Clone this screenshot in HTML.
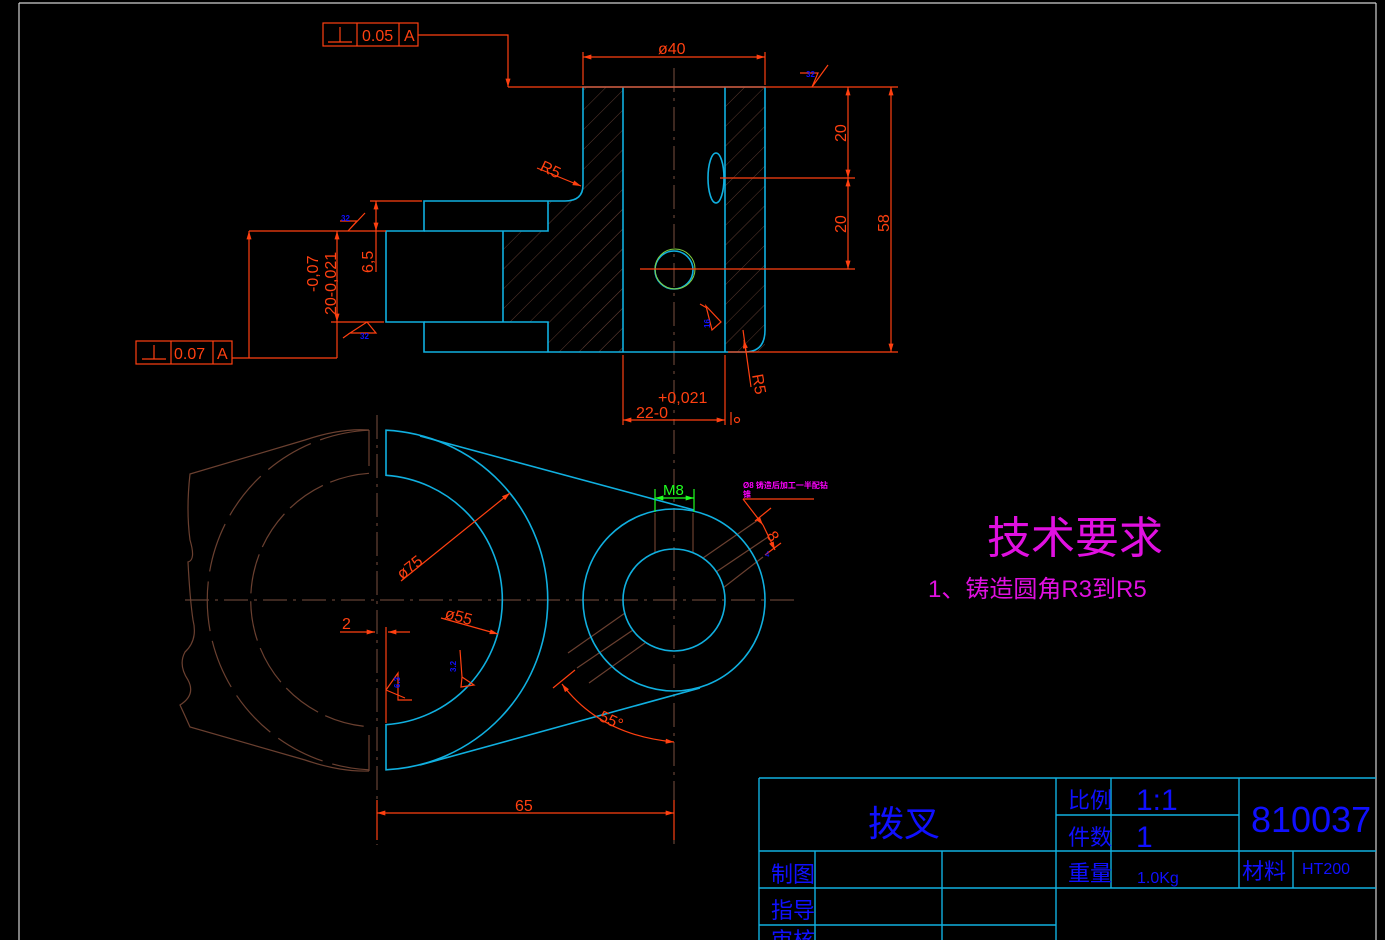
<!DOCTYPE html>
<html><head><meta charset="utf-8"><style>
html,body{margin:0;padding:0;background:#000;}
svg{display:block}
text{font-family:"Liberation Sans","Noto Sans CJK SC",sans-serif;}
</style></head><body>
<svg width="1385" height="940" viewBox="0 0 1385 940" xmlns="http://www.w3.org/2000/svg">
<defs>
<pattern id="h" width="14" height="14" patternUnits="userSpaceOnUse" patternTransform="rotate(45)">
<line x1="0" y1="0" x2="0" y2="14" stroke="#5a3a30" stroke-width="1"/>
</pattern>
<marker id="a" viewBox="0 0 10 6" refX="10" refY="3" markerWidth="12" markerHeight="5" orient="auto-start-reverse" markerUnits="userSpaceOnUse"><path d="M0,0L10,3L0,6z" fill="#ff4010"/></marker>
<marker id="g" viewBox="0 0 10 6" refX="10" refY="3" markerWidth="12" markerHeight="5" orient="auto-start-reverse" markerUnits="userSpaceOnUse"><path d="M0,0L10,3L0,6z" fill="#20ff20"/></marker>
</defs>
<rect width="1385" height="940" fill="#000"/>
<g stroke="#d0d0d0" stroke-width="1.2" fill="none">
<line x1="19" y1="3" x2="1376" y2="3"/>
<line x1="19" y1="3" x2="19" y2="940"/>
<line x1="1376" y1="3" x2="1376" y2="940"/>
</g>

<g fill="url(#h)" stroke="none">
<rect x="583" y="87" width="40" height="265"/>
<rect x="725" y="87" width="40" height="265"/>
<path d="M548,201 L565,201 Q583,201 583,185 L583,201 L623,201 L623,352 L548,352 Z"/>
<rect x="503" y="231" width="45" height="91"/>
</g>
<g stroke="#7a5040" stroke-width="1" stroke-dasharray="24,6,3,6" fill="none">
<line x1="674" y1="68" x2="674" y2="425"/>
<line x1="377" y1="415" x2="377" y2="845"/>
<line x1="674" y1="430" x2="674" y2="845"/>
<line x1="185" y1="600" x2="795" y2="600"/>
</g>
<g stroke="#10b0e0" stroke-width="1.6" fill="none">
<path d="M583,87 L765,87 L765,330 Q765,352 745,352 L424,352 L424,322 L386,322 L386,231 L424,231 L424,201 L565,201 Q583,201 583,185 Z"/>
<line x1="623" y1="87" x2="623" y2="352"/>
<line x1="725" y1="87" x2="725" y2="352"/>
<path d="M424,231 L548,231 L548,201 M424,322 L548,322 L548,352 M503,231 L503,322"/>
<ellipse cx="716" cy="178" rx="8" ry="25"/>
<circle cx="674" cy="270" r="19"/>
</g>
<circle cx="675" cy="269" r="20" stroke="#80d040" stroke-width="1" fill="none"/>

<g stroke="#ff4010" stroke-width="1.2" fill="none">
<rect x="323" y="23" width="95" height="23"/>
<line x1="357" y1="23" x2="357" y2="46"/><line x1="399" y1="23" x2="399" y2="46"/>
<line x1="328" y1="42" x2="352" y2="42"/><line x1="340" y1="27" x2="340" y2="42"/>
<path d="M418,35 L508,35 L508,87" marker-end="url(#a)"/>
<line x1="508" y1="87" x2="898" y2="87"/>
<line x1="583" y1="52" x2="583" y2="85"/><line x1="765" y1="52" x2="765" y2="85"/>
<line x1="583" y1="57" x2="765" y2="57" marker-start="url(#a)" marker-end="url(#a)"/>
<path d="M800,73 L818,73 L812,87 L828,65"/>
<line x1="728" y1="352" x2="898" y2="352"/>
<line x1="891" y1="87" x2="891" y2="352" marker-start="url(#a)" marker-end="url(#a)"/>
<line x1="720" y1="178" x2="855" y2="178"/>
<line x1="640" y1="269" x2="855" y2="269"/>
<line x1="848" y1="87" x2="848" y2="178" marker-start="url(#a)" marker-end="url(#a)"/>
<line x1="848" y1="178" x2="848" y2="269" marker-start="url(#a)" marker-end="url(#a)"/>
<line x1="537" y1="168" x2="581" y2="186" marker-end="url(#a)"/>
<line x1="743" y1="330" x2="751" y2="387"/>
<line x1="746" y1="352" x2="744" y2="340" marker-end="url(#a)"/>
<line x1="623" y1="355" x2="623" y2="425"/><line x1="725" y1="355" x2="725" y2="425"/>
<line x1="623" y1="420" x2="725" y2="420" marker-start="url(#a)" marker-end="url(#a)"/>
<line x1="731" y1="412" x2="731" y2="425"/>
<circle cx="737" cy="420" r="2.5"/>
<path d="M706,306 L721,322 L712,330 Z"/><line x1="700" y1="304" x2="707" y2="308"/>
<line x1="370" y1="201" x2="422" y2="201"/>
<line x1="376" y1="201" x2="376" y2="231" marker-start="url(#a)" marker-end="url(#a)"/>
<line x1="376" y1="231" x2="376" y2="272"/>
<line x1="249" y1="231" x2="386" y2="231"/>
<line x1="331" y1="322" x2="384" y2="322"/>
<line x1="249" y1="358" x2="249" y2="231" marker-end="url(#a)"/>
<line x1="337" y1="231" x2="337" y2="322" marker-start="url(#a)" marker-end="url(#a)"/>
<line x1="337" y1="322" x2="337" y2="358"/>
<line x1="232" y1="358" x2="337" y2="358"/>
<rect x="136" y="341" width="96" height="23"/>
<line x1="171" y1="341" x2="171" y2="364"/><line x1="213" y1="341" x2="213" y2="364"/>
<line x1="142" y1="359" x2="166" y2="359"/><line x1="154" y1="345" x2="154" y2="359"/>
<path d="M340,221 L357,221 L348,231 L365,213"/>
<path d="M350,333 L376,333 L367,322 Z M350,333 L343,338"/>
</g>
<g fill="#ff4010" font-size="16">
<text x="362" y="41">0.05</text><text x="404" y="41">A</text>
<text x="174" y="359">0.07</text><text x="217" y="359">A</text>
<text x="658" y="54">ø40</text>
<text x="0" y="0" transform="translate(846,142) rotate(-90)">20</text>
<text x="0" y="0" transform="translate(846,233) rotate(-90)">20</text>
<text x="0" y="0" transform="translate(889,232) rotate(-90)">58</text>
<text x="0" y="0" transform="translate(373,273) rotate(-90)">6,5</text>
<text x="0" y="0" transform="translate(318,292) rotate(-90)">-0,07</text>
<text x="0" y="0" transform="translate(336,315) rotate(-90)">20-0,021</text>
<text x="0" y="0" transform="translate(539,170) rotate(25)">R5</text>
<text x="0" y="0" transform="translate(752,375) rotate(80)">R5</text>
<text x="658" y="403">+0,021</text>
<text x="636" y="418">22-0</text>
</g>
<g fill="#1010ff" font-size="8" font-weight="bold">
<text x="806" y="77">32</text><text x="341" y="221">32</text><text x="360" y="339">32</text>
<text x="0" y="0" transform="translate(710,328) rotate(-90)">16</text>
</g>

<g stroke="#6b4030" stroke-width="1.2" fill="none">
<path d="M369,430 Q340,428 305,440 L190,474 Q186,510 190,540 Q196,560 188,562 Q190,600 193,620 Q198,640 185,652 Q178,665 188,680 Q196,695 180,705 Q186,718 190,727 L305,760 Q340,772 369,771"/>
<line x1="369" y1="430" x2="369" y2="466"/><line x1="369" y1="735" x2="369" y2="771"/>
<path d="M369,473.3 A127,127 0 0 0 369,726.7" stroke-dasharray="40,8"/>
<path d="M369,430.2 A170,170 0 0 0 369,769.8" stroke-dasharray="50,10"/>
<line x1="655" y1="513" x2="655" y2="553"/><line x1="693" y1="513" x2="693" y2="553"/>
<line x1="703" y1="558" x2="758" y2="520"/><line x1="716" y1="572" x2="768" y2="537"/><line x1="723" y1="588" x2="763" y2="557"/>
<line x1="568" y1="653" x2="625" y2="613"/><line x1="577" y1="668" x2="633" y2="630"/><line x1="589" y1="683" x2="645" y2="643"/>
</g>
<g stroke="#10b0e0" stroke-width="1.6" fill="none">
<path d="M386,430.2 A170,170 0 0 1 386,769.8 L386,724.7 A125,125 0 0 0 386,475.3 Z"/>
<circle cx="674" cy="600" r="91"/>
<circle cx="674" cy="600" r="51"/>
<line x1="420" y1="436" x2="694" y2="510"/>
<line x1="420" y1="765" x2="700" y2="688"/>
</g>
<g stroke="#ff4010" stroke-width="1.2" fill="none">
<line x1="401" y1="581" x2="510" y2="493" marker-end="url(#a)"/>
<line x1="441" y1="618" x2="498" y2="634" marker-end="url(#a)"/>
<line x1="340" y1="632" x2="375" y2="632" marker-end="url(#a)"/>
<line x1="410" y1="632" x2="388" y2="632" marker-end="url(#a)"/>
<line x1="386" y1="627" x2="386" y2="723"/>
<line x1="377" y1="800" x2="377" y2="840"/><line x1="674" y1="800" x2="674" y2="840"/>
<line x1="377" y1="813" x2="674" y2="813" marker-start="url(#a)" marker-end="url(#a)"/>
<path d="M562,684 Q600,735 674,742" marker-start="url(#a)" marker-end="url(#a)"/>
<line x1="553" y1="688" x2="575" y2="670"/>
<path d="M386,690 L398,673 L398,700 L412,700 M386,690 L405,698"/>
<path d="M462,677 L474,685 L461,687 L462,677 M462,677 L460,650"/>
<line x1="743" y1="499" x2="814" y2="499"/>
<line x1="743" y1="499" x2="763" y2="525" marker-end="url(#a)"/>
<line x1="755" y1="521" x2="771" y2="508"/>
<line x1="763" y1="525" x2="775" y2="550" marker-end="url(#a)"/>
<line x1="765" y1="555" x2="781" y2="543"/>
</g>
<g stroke="#20ff20" stroke-width="1.2" fill="none">
<line x1="655" y1="489" x2="655" y2="512"/><line x1="694" y1="489" x2="694" y2="512"/>
<line x1="655" y1="498" x2="694" y2="498" marker-start="url(#g)" marker-end="url(#g)"/>
</g>
<text x="663" y="495" fill="#20ff20" font-size="15">M8</text>
<g fill="#ff4010" font-size="16">
<text x="0" y="0" transform="translate(402,580) rotate(-38)">ø75</text>
<text x="0" y="0" transform="translate(444,618) rotate(15)">ø55</text>
<text x="342" y="629">2</text>
<text x="515" y="811">65</text>
<text x="0" y="0" transform="translate(598,720) rotate(25)">55°</text>
<text x="0" y="0" transform="translate(766,535) rotate(60)">8</text>
</g>
<g fill="#ff00ff" font-size="8" font-weight="bold">
<text x="743" y="488">Ø8 铸造后加工一半配钻</text><text x="743" y="497">锥</text>
</g>
<text x="765" y="557" fill="#1010ff" font-size="8">4</text>
<g fill="#1010ff" font-size="8" font-weight="bold">
<text x="0" y="0" transform="translate(400,688) rotate(-90)">6.3</text>
<text x="0" y="0" transform="translate(456,672) rotate(-90)">3.2</text>
</g>

<text x="987" y="553" fill="#e010e0" font-size="44" font-family="'Noto Sans CJK SC',sans-serif">技术要求</text>
<text x="928" y="597" fill="#e010e0" font-size="24" font-family="'Liberation Sans','Noto Sans CJK SC',sans-serif">1、铸造圆角R3到R5</text>

<g stroke="#10b0e0" stroke-width="1.4" fill="none">
<line x1="759" y1="778" x2="1376" y2="778"/>
<line x1="759" y1="778" x2="759" y2="940"/>
<line x1="759" y1="851" x2="1376" y2="851"/>
<line x1="759" y1="888" x2="1376" y2="888"/>
<line x1="759" y1="925" x2="1056" y2="925"/>
<line x1="1056" y1="815" x2="1239" y2="815"/>
<line x1="815" y1="851" x2="815" y2="940"/>
<line x1="942" y1="851" x2="942" y2="940"/>
<line x1="1056" y1="778" x2="1056" y2="940"/>
<line x1="1111" y1="778" x2="1111" y2="888"/>
<line x1="1239" y1="778" x2="1239" y2="888"/>
<line x1="1293" y1="851" x2="1293" y2="888"/>
</g>
<g fill="#1010ff" font-family="'Noto Sans CJK SC',sans-serif">
<text x="868" y="836" font-size="36">拨叉</text>
<text x="1068" y="808" font-size="22">比例</text>
<text x="1068" y="845" font-size="22">件数</text>
<text x="1068" y="881" font-size="22">重量</text>
<text x="1242" y="879" font-size="22">材料</text>
<text x="771" y="882" font-size="22">制图</text>
<text x="771" y="918" font-size="22">指导</text>
<text x="771" y="948" font-size="22">审核</text>
</g>
<g fill="#1010ff" font-family="'Liberation Sans',sans-serif">
<text x="1136" y="810" font-size="30">1:1</text>
<text x="1136" y="847" font-size="30">1</text>
<text x="1137" y="883" font-size="16">1.0Kg</text>
<text x="1302" y="874" font-size="16">HT200</text>
<text x="1251" y="832" font-size="36">810037</text>
</g>
</svg>
</body></html>
